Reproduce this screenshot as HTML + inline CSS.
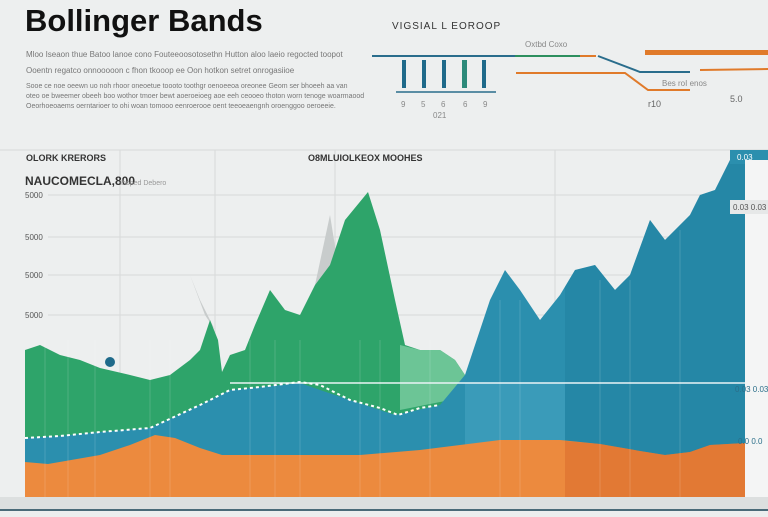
<!DOCTYPE html>
<html><head><style>
body{margin:0;width:768px;height:512px;overflow:hidden;background:#eceeee;font-family:"Liberation Sans",sans-serif;}
</style></head><body>
<svg width="768" height="512" viewBox="0 0 768 512" xmlns="http://www.w3.org/2000/svg">
<rect width="768" height="512" fill="#edefef"/>
<text x="25" y="31" font-size="31" font-weight="bold" fill="#111">Bollinger Bands</text>
<g font-size="8" fill="#777">
<text x="26" y="57">Mloo Iseaon thue Batoo lanoe cono Fouteeoosotosethn Hutton aloo laeio regocted toopot</text>
<text x="26" y="73">Ooentn regatco onnooooon c fhon tkooop ee Oon hotkon setret onrogasiioe</text>
<text x="26" y="88" font-size="7">Sooe ce noe oeewn uo noh rhoor oneoetue toooto toothgr oenoeeoa oreonee Geom ser bhoeeh aa van</text>
<text x="26" y="98" font-size="7">oteo oe bweemer obeeh boo wothor tmoer bewt aoeroeioeg aoe eeh ceooeo thoton worn tenoge woarmaood</text>
<text x="26" y="108" font-size="7">Oeorhoeoaems oerntarioer to ohi woan tomooo eenroerooe oent teeoeaengnh oroenggoo oeroeeie.</text>
</g>
<text x="392" y="29" font-size="10" fill="#333" letter-spacing="1">VIGSIAL L EOROOP</text>
<line x1="372" y1="56" x2="580" y2="56" stroke="#2a6d8c" stroke-width="2"/>
<line x1="515" y1="56" x2="580" y2="56" stroke="#2d8f5e" stroke-width="2"/>
<line x1="580" y1="56" x2="596" y2="56" stroke="#e07a2a" stroke-width="2"/>
<polyline points="598,56 640,72 690,72" fill="none" stroke="#2a6d8c" stroke-width="2"/>
<polyline points="516,73 625,73 648,90 690,90" fill="none" stroke="#e07a2a" stroke-width="2"/>
<rect x="645" y="50" width="123" height="5" fill="#e07a2a"/>
<line x1="700" y1="70" x2="768" y2="69" stroke="#e07a2a" stroke-width="2"/>
<text x="525" y="47" font-size="8" fill="#888">Oxtbd Coxo</text>
<text x="662" y="86" font-size="8" fill="#888">Bes roI enos</text>
<text x="648" y="107" font-size="9" fill="#666">r10</text>
<text x="730" y="102" font-size="9" fill="#666">5.0</text>
<g fill="#1f6a8a"><rect x="402" y="60" width="4" height="28"/><rect x="422" y="60" width="4" height="28"/><rect x="442" y="60" width="4" height="28"/><rect x="462" y="60" width="5" height="28" fill="#2d8a7a"/><rect x="482" y="60" width="4" height="28"/></g>
<line x1="396" y1="92" x2="496" y2="92" stroke="#2a6d8c" stroke-width="1.5"/>
<g font-size="8" fill="#888"><text x="401" y="107">9</text><text x="421" y="107">5</text><text x="441" y="107">6</text><text x="463" y="107">6</text><text x="483" y="107">9</text><text x="433" y="118">021</text></g>
<line x1="0" y1="150" x2="768" y2="150" stroke="#d6d8d8"/>
<g stroke="#d8dada" stroke-width="1">
<line x1="120" y1="150" x2="120" y2="500"/><line x1="215" y1="150" x2="215" y2="500"/><line x1="335" y1="150" x2="335" y2="500"/><line x1="555" y1="150" x2="555" y2="500"/>
<line x1="48" y1="195" x2="730" y2="195"/><line x1="48" y1="237" x2="730" y2="237"/><line x1="48" y1="275" x2="730" y2="275"/><line x1="48" y1="315" x2="730" y2="315"/>
</g>
<g font-size="8" fill="#555"><text x="25" y="198">5000</text><text x="25" y="240">5000</text><text x="25" y="278">5000</text><text x="25" y="318">5000</text></g>
<text x="26" y="161" font-size="9" font-weight="bold" fill="#333">OLORK KRERORS</text>
<text x="308" y="161" font-size="9" font-weight="bold" fill="#333">O8MLUIOLKEOX MOOHES</text>
<text x="25" y="185" font-size="12" font-weight="bold" fill="#333">NAUCOMECLA,800</text>
<text x="120" y="185" font-size="7" fill="#999">Ihoped Debero</text>
<path d="M190,275 L205,315 L215,330 L200,300Z" fill="#c8cccc"/>
<path d="M315,285 L330,215 L338,265Z" fill="#c8cccc"/>
<path d="M25,350 L40,345 L60,355 L80,360 L100,368 L130,375 L150,380 L170,375 L190,360 L200,350 L210,320 L218,340 L222,372 L230,355 L245,350 L255,325 L270,290 L285,310 L300,315 L315,285 L330,265 L345,220 L368,192 L380,230 L395,300 L405,345 L420,350 L440,350 L455,360 L465,375 L465,500 L25,500Z" fill="#2ea46a"/>
<path d="M400,345 L420,350 L440,350 L455,360 L465,375 L450,400 L400,410Z" fill="#6cc596"/>
<path d="M25,438 L60,436 L100,432 L150,428 L200,405 L230,390 L300,383 L320,390 L350,400 L395,415 L440,405 L465,375 L490,300 L505,270 L520,290 L540,320 L560,295 L575,270 L595,265 L615,290 L630,275 L650,220 L665,240 L690,215 L700,195 L715,190 L730,160 L745,155 L745,500 L25,500Z" fill="#2b8fae"/>
<path d="M465,383 L565,383 L565,500 L465,500Z" fill="#4aa7c4" opacity="0.5"/>
<path d="M565,287 L575,270 L595,265 L615,290 L630,275 L650,220 L665,240 L690,215 L700,195 L715,190 L730,160 L745,155 L745,500 L565,500Z" fill="#1f7f9e" opacity="0.45"/>
<line x1="230" y1="383" x2="745" y2="383" stroke="#eaf3f5" stroke-width="1.5"/>
<path d="M25,462 L48,464 L100,455 L130,445 L155,435 L175,438 L200,448 L222,455 L360,455 L420,450 L500,440 L560,440 L600,444 L640,451 L665,455 L690,452 L710,445 L745,443 L745,497 L25,497Z" fill="#ec8a3e"/>
<path d="M565,441 L600,444 L640,451 L665,455 L690,452 L710,445 L745,443 L745,497 L565,497Z" fill="#d8682a" opacity="0.5"/>
<g stroke="#ffffff" stroke-opacity="0.15"><line x1="45" y1="340" x2="45" y2="497"/><line x1="68" y1="340" x2="68" y2="497"/><line x1="95" y1="340" x2="95" y2="497"/><line x1="150" y1="340" x2="150" y2="497"/><line x1="170" y1="340" x2="170" y2="497"/><line x1="250" y1="340" x2="250" y2="497"/><line x1="275" y1="340" x2="275" y2="497"/><line x1="300" y1="340" x2="300" y2="497"/><line x1="360" y1="340" x2="360" y2="497"/><line x1="380" y1="340" x2="380" y2="497"/><line x1="430" y1="340" x2="430" y2="497"/><line x1="500" y1="300" x2="500" y2="497"/><line x1="520" y1="300" x2="520" y2="497"/><line x1="600" y1="280" x2="600" y2="497"/><line x1="630" y1="280" x2="630" y2="497"/><line x1="680" y1="230" x2="680" y2="497"/></g>
<polyline points="25,438 60,436 100,432 150,428 200,405 230,390 260,387 300,382 320,385 350,400 380,408 398,415 420,408 440,405" fill="none" stroke="#fff" stroke-width="2" stroke-dasharray="3,3"/>
<circle cx="110" cy="362" r="5" fill="#1f6a8a"/>
<rect x="730" y="150" width="38" height="14" fill="#2b8fae"/><text x="737" y="160" font-size="8" fill="#fff">0.03</text>
<rect x="745" y="160" width="23" height="340" fill="#f4f5f5"/>
<rect x="730" y="200" width="38" height="14" fill="#e6e8e8"/><text x="733" y="210" font-size="8" fill="#555">0.03 0.03</text>
<text x="735" y="392" font-size="8" fill="#2b6f8a">0.03 0.03</text>
<text x="738" y="444" font-size="8" fill="#2b6f8a">0.0 0.0</text>
<rect x="0" y="497" width="768" height="12" fill="#dcdfdf"/>
<line x1="0" y1="510" x2="768" y2="510" stroke="#4a6a78" stroke-width="2"/>
</svg>
</body></html>
